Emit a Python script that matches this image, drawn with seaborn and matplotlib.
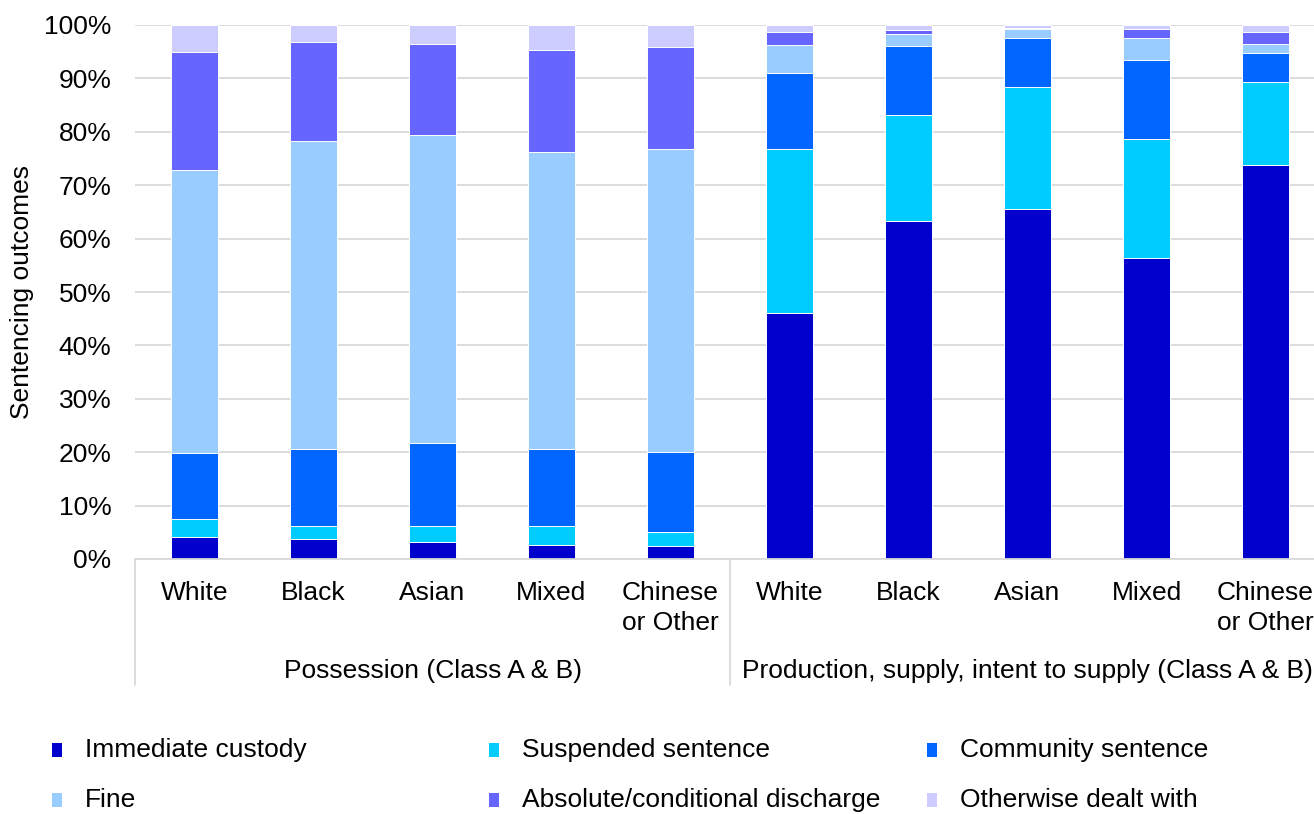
import numpy as np
import pandas as pd
import matplotlib.pyplot as plt
import matplotlib.transforms as mtransforms
from matplotlib.patches import Rectangle
import seaborn as sns

# Dados (% de cada desfecho por grupo)
etnias = ["White", "Black", "Asian", "Mixed", "Chinese\nor Other"]
grupos = ["Possession (Class A & B)",
          "Production, supply, intent to supply (Class A & B)"]

custody = [4.1, 3.8, 3.1, 2.7, 2.5, 46.0, 63.3, 65.6, 56.4, 73.7]
suspended = [3.3, 2.3, 3.0, 3.4, 2.6, 30.8, 19.9, 22.7, 22.2, 15.7]
community = [12.4, 14.5, 15.7, 14.5, 14.9, 14.2, 12.9, 9.3, 14.9, 5.4]
fine = [53.0, 57.7, 57.6, 55.7, 56.8, 5.3, 2.2, 1.6, 4.1, 1.7]
discharge = [22.2, 18.5, 17.1, 19.1, 19.0, 2.3, 0.7, 0.2, 1.6, 2.2]
otherwise = [5.0, 3.2, 3.5, 4.6, 4.2, 1.4, 1.0, 0.6, 0.8, 1.3]

desfechos = ["Immediate custody", "Suspended sentence", "Community sentence",
             "Fine", "Absolute/conditional discharge", "Otherwise dealt with"]
cores = ["#0000CC", "#00CCFF", "#0066FF", "#99CCFF", "#6666FF", "#CCCCFF"]

sns.set_theme(style="white")
plt.rcParams["font.family"] = ["Liberation Sans", "DejaVu Sans"]
plt.rcParams["text.color"] = "#000000"
FS = 19

ids = [f"{g}-{e}" for g in range(2) for e in range(5)]
df = pd.DataFrame({"id": ids, "custody": custody, "suspended": suspended,
                   "community": community, "fine": fine,
                   "discharge": discharge, "otherwise": otherwise})
colunas = ["custody", "suspended", "community", "fine", "discharge", "otherwise"]
acum = df[colunas].cumsum(axis=1)

fig = plt.figure(figsize=(13.14, 8.14), dpi=100)
ax = fig.add_axes([135 / 1314, 255 / 814, 1190 / 1314, 534 / 814])

# barras empilhadas: desenha do topo acumulado para baixo
for i in range(len(colunas) - 1, -1, -1):
    sns.barplot(x=df["id"], y=acum[colunas[i]], order=ids, color=cores[i],
                saturation=1, width=0.4, errorbar=None, ax=ax,
                edgecolor="white", linewidth=0.7)

ax.set_ylim(0, 100)
ax.set_xlim(-0.5, 9.5)
ax.set_yticks(np.arange(0, 101, 10))
ax.set_yticklabels([f"{v}%" for v in range(0, 101, 10)], fontsize=FS)
ax.set_xticks(range(10))
ax.set_xticklabels(etnias * 2, fontsize=FS, linespacing=1.35)
ax.tick_params(axis="y", length=0, pad=17, colors="#000000")
ax.tick_params(axis="x", length=0, pad=15.5, colors="#000000")
ax.set_xlabel("")
ax.set_ylabel("")
ax.yaxis.grid(True, color="#d9d9d9", linewidth=1.3)
ax.set_axisbelow(True)
for s in ax.spines.values():
    s.set_visible(False)

fig.text(22 / 1314, 0.5 * (255 + 789) / 814, "Sentencing outcomes",
         rotation=90, ha="center", va="center", fontsize=FS)

# linhas separadoras e rótulos dos grupos
trans = mtransforms.blended_transform_factory(ax.transData, ax.transAxes)
for xs in [-0.5, 4.5, 9.5]:
    ax.plot([xs, xs], [0, -0.236], transform=trans, color="#d9d9d9",
            linewidth=1.3, clip_on=False)
ax.plot([-0.5, 9.5], [0, 0], transform=trans, color="#d9d9d9",
        linewidth=1.3, clip_on=False)
for k, g in enumerate(grupos):
    ax.text(2 + 5 * k, (559 - 671) / 534, g, transform=trans, ha="center",
            va="center", fontsize=FS)

# legenda manual em 3 colunas
xs_marc = [52, 489, 927]
ys_lin = [750, 800]
for i, nome in enumerate(desfechos):
    lin, col = divmod(i, 3)
    x = xs_marc[col]
    y = ys_lin[lin]
    fig.patches.append(Rectangle((x / 1314, (814 - y - 7) / 814), 10 / 1314,
                                 14 / 814, transform=fig.transFigure,
                                 facecolor=cores[i], edgecolor="none"))
    fig.text((x + 33) / 1314, (814 - y) / 814, nome, ha="left", va="center",
             fontsize=FS)

plt.savefig("out.png", dpi=100)
plt.close()
